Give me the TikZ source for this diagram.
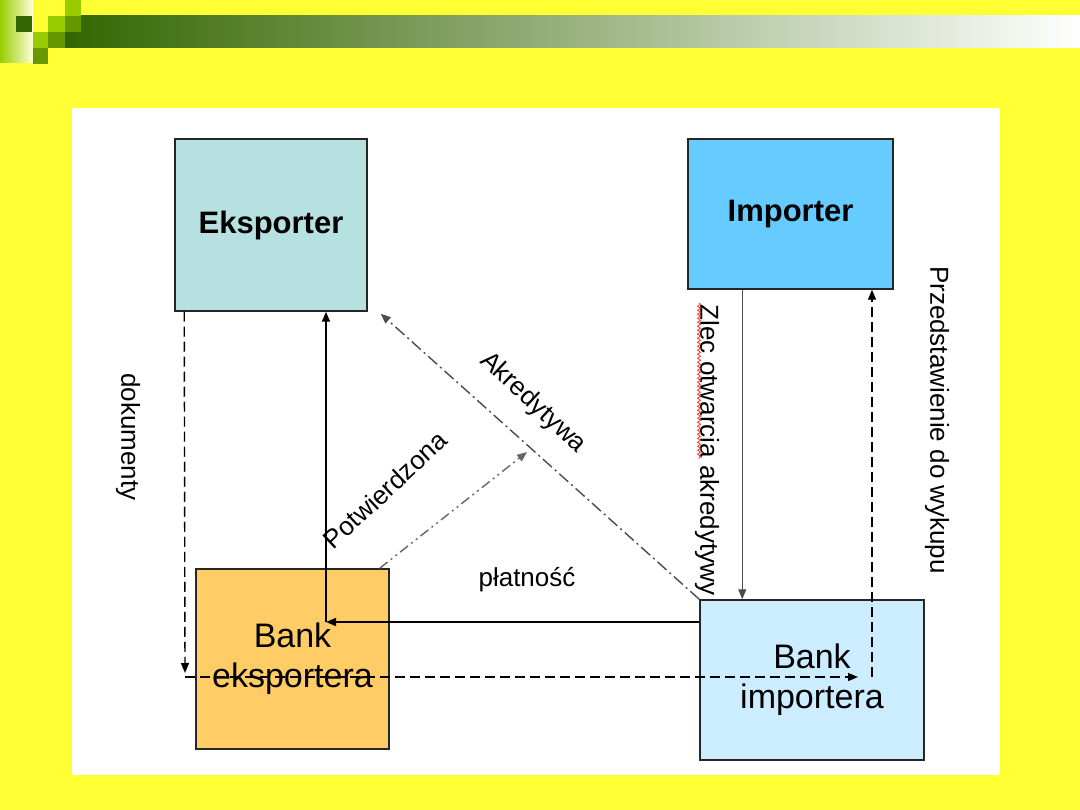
\documentclass[tikz,border=0pt]{standalone}
\usepackage{fontspec}
\setmainfont{Liberation Sans}
\usetikzlibrary{arrows.meta,calc,decorations.pathmorphing}
\definecolor{bgyellow}{HTML}{FFFF33}
\definecolor{bglight}{HTML}{FFFF66}
\definecolor{darkgreen}{HTML}{336600}
\definecolor{midgreen}{HTML}{669900}
\definecolor{lightgreen}{HTML}{99CC00}
\definecolor{eksfill}{HTML}{B7E0E0}
\definecolor{impfill}{HTML}{66CCFF}
\definecolor{bankeksfill}{HTML}{FFCC66}
\definecolor{bankimpfill}{HTML}{CCECFF}
\tikzset{
  box/.style={draw=black!85, line width=1.5pt, inner sep=0pt, align=center},
  titlebox/.style={box, font=\fontsize{31}{36}\selectfont\bfseries},
  bankbox/.style={box, font=\fontsize{34}{40}\selectfont},
  lbl/.style={font=\fontsize{26}{30}\selectfont, inner sep=0pt},
  tip/.style={-{Triangle[length=10pt,width=8pt]}},
  flow/.style={tip, line width=1.5pt},
  thinflow/.style={tip, line width=1pt, black!70},
  docline/.style={tip, line width=1.4pt, dash pattern=on 10pt off 5pt},
  akrline/.style={tip, line width=1.4pt, black!70, dash pattern=on 12pt off 4pt on 2pt off 4pt},
  confline/.style={tip, line width=1.4pt, black!60, dash pattern=on 10pt off 4pt on 2pt off 4pt on 2pt off 4pt}
}
\begin{document}
\begin{tikzpicture}[x=1pt, y=-1pt]
    \useasboundingbox (0,0) rectangle (1080,810);
    % slide background
    \shade[top color=bgyellow, middle color=bglight, bottom color=bgyellow] (0,0) rectangle (1080,810);
    \fill[left color=darkgreen, right color=white] (65,16) rectangle (1080,48);
    \fill[left color=lightgreen, right color=white!85!yellow] (0,0) rectangle (33,63);
    \fill[darkgreen] (16,16) rectangle (32,32);
    \fill[lightgreen] (65,0) rectangle (81,16);
    \fill[lightgreen] (48,16) rectangle (65,32);
    \fill[midgreen] (65,16) rectangle (81,32);
    \fill[lightgreen] (33,32) rectangle (48,48);
    \fill[midgreen] (48,32) rectangle (65,48);
    \fill[midgreen] (33,48) rectangle (48,64);
    \fill[white] (72,108) rectangle (1000,775);

    % Boxes
    \node[titlebox, fill=eksfill, minimum width=192pt, minimum height=172pt] (eksporter) at (271,225) {Eksporter};
    \node[titlebox, fill=impfill, minimum width=205pt, minimum height=150pt] (importer) at (790.5,214) {Importer};
    \node[bankbox, fill=bankeksfill, minimum width=193pt, minimum height=180pt] (bankeks) at (292.5,659) {Bank\\eksportera};
    \node[bankbox, fill=bankimpfill, minimum width=224pt, minimum height=160pt] (bankimp) at (812,680) {Bank\\importera};

    % dokumenty
    \coordinate (dok) at (185,677);
    \coordinate (dokend) at (858,677);
    \draw[docline] ($(eksporter.south west)+(10,0)$) -- ($(dok)+(0,-4)$);
    \draw[docline] (dok) -- (dokend);
    \node[lbl, rotate=-90] (dokumenty) at (128,437) {dokumenty};

    % platnosc
    \coordinate (pay) at (326,622);
    \draw[flow] (bankimp.west |- pay) -- (pay);
    \draw[flow] (pay) -- (pay |- eksporter.south);
    \node[lbl] (platnosc) at (527,580) {płatność};

    % Potwierdzona / Akredytywa
    \coordinate (conf) at (527,452);
    \draw[confline] ($(bankeks.north east)+(-10,0)$) -- (conf);
    \node[lbl, rotate=43] (potw) at (385,490) {Potwierdzona};
    \draw[akrline] (bankimp.north west) -- ($(eksporter.south east)+(13,2)$);
    \node[lbl, rotate=-43] (akred) at (533,403) {Akredytywa};

    % Importer side
    \draw[thinflow] ($(importer.south west)+(55,0)$) -- ($(bankimp.north west)+(43,0)$);
    \node[lbl, rotate=-90] (zlec) at (707,450) {Zlec otwarcia akredytywy};
    \draw[red!80, line width=0.8pt, decorate, decoration={snake, amplitude=1.5pt, segment length=4pt}] (699,303) -- (699,459);
    \coordinate (wyk) at (872,677);
    \draw[docline] (wyk) -- (wyk |- importer.south);
    \node[lbl, rotate=-90] (przed) at (937,420) {Przedstawienie do wykupu};
\end{tikzpicture}
\end{document}
